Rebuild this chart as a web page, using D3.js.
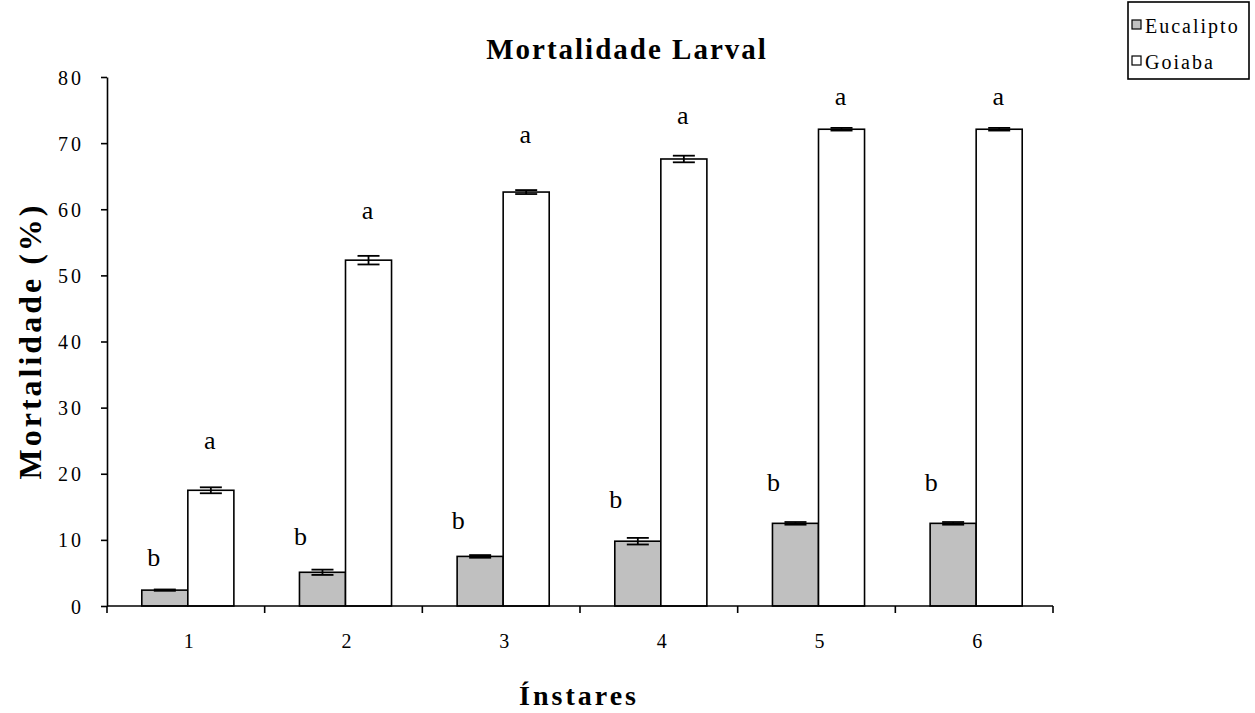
<!DOCTYPE html>
<html>
<head>
<meta charset="utf-8">
<script src="https://cdn.jsdelivr.net/npm/d3@7"></script>
<style>
  html, body { margin: 0; padding: 0; background: #fff; }
  svg { display: block; font-family: "Liberation Serif", "Times New Roman", serif; }
</style>
</head>
<body>
<svg id="chart" width="1255" height="713"></svg>
<script>
// Larval mortality (%) per instar, for larvae reared on eucalyptus and guava
const instars = ["1", "2", "3", "4", "5", "6"];
const seriesNames = ["Eucalipto", "Goiaba"];
const eucalipto = [2.4, 5.1, 7.5, 9.8, 12.5, 12.5];
const eucaliptoErr = [0.1, 0.4, 0.2, 0.5, 0.2, 0.2];
const goiaba = [17.5, 52.3, 62.6, 67.6, 72.1, 72.1];
const goiabaErr = [0.45, 0.65, 0.3, 0.5, 0.2, 0.2];
const yTicks = [0, 10, 20, 30, 40, 50, 60, 70, 80];

// significance letters and the height (in % units) of their baselines
const letterEuc = ["b", "b", "b", "b", "b", "b"];
const letterEucAt = [6.0, 9.2, 11.6, 14.8, 17.4, 17.4];
const letterGoi = ["a", "a", "a", "a", "a", "a"];
const letterGoiAt = [23.7, 58.5, 70.0, 72.9, 75.8, 75.8];

const fills = ["#c0c0c0", "#ffffff"];
const serif = "'Liberation Serif', 'Times New Roman', serif";

const svg = d3.select("#chart");
const plotL = 107, plotR = 1053, plotT = 77, plotB = 606;

const x = d3.scaleBand().domain(instars).range([plotL, plotR]).paddingInner(0).paddingOuter(0);
const y = d3.scaleLinear().domain([0, 80]).range([plotB, plotT]);
const barW = x.bandwidth() * 0.292;
const sub = d3.scaleBand().domain(seriesNames).range([0, 2 * barW]);
const groupOffset = (x.bandwidth() - 2 * barW) / 2 + 2;

const rows = instars.map((k, i) => ({
  k,
  vals: [
    { s: "Eucalipto", v: eucalipto[i], e: eucaliptoErr[i], L: letterEuc[i], at: letterEucAt[i] },
    { s: "Goiaba", v: goiaba[i], e: goiabaErr[i], L: letterGoi[i], at: letterGoiAt[i] }
  ]
}));

// bars
const g = svg.append("g");
const groups = g.selectAll("g.grp").data(rows).join("g")
  .attr("class", "grp")
  .attr("transform", d => `translate(${x(d.k) + groupOffset},0)`);

groups.selectAll("rect").data(d => d.vals).join("rect")
  .attr("x", d => sub(d.s))
  .attr("y", d => y(d.v))
  .attr("width", sub.bandwidth())
  .attr("height", d => y(0) - y(d.v))
  .attr("fill", (d, i) => fills[i])
  .attr("stroke", "#000")
  .attr("stroke-width", 1.6);

// error bars
const capW = 22;
groups.selectAll("g.err").data(d => d.vals).join("g")
  .attr("class", "err")
  .each(function(d) {
    const cx = sub(d.s) + sub.bandwidth() / 2;
    const e = d3.select(this);
    e.append("line").attr("x1", cx).attr("x2", cx)
      .attr("y1", y(d.v + d.e)).attr("y2", y(d.v - d.e));
    e.append("line").attr("x1", cx - capW / 2).attr("x2", cx + capW / 2)
      .attr("y1", y(d.v + d.e)).attr("y2", y(d.v + d.e));
    e.append("line").attr("x1", cx - capW / 2).attr("x2", cx + capW / 2)
      .attr("y1", y(d.v - d.e)).attr("y2", y(d.v - d.e));
  })
  .attr("stroke", "#000").attr("stroke-width", 1.8);

// letters above bars
groups.append("text")
  .attr("x", (d, i) => sub("Eucalipto") + (i === 0 ? 12 : 1))
  .attr("y", d => y(d.vals[0].at))
  .attr("text-anchor", "middle")
  .style("font-size", "26px")
  .text(d => d.vals[0].L);
groups.append("text")
  .attr("x", sub("Goiaba") + sub.bandwidth() / 2 - 1)
  .attr("y", d => y(d.vals[1].at))
  .attr("text-anchor", "middle")
  .style("font-size", "26px")
  .text(d => d.vals[1].L);

// y axis
const yAxis = svg.append("g")
  .attr("transform", `translate(${plotL},0)`)
  .call(d3.axisLeft(y).tickValues(yTicks).tickSize(6).tickPadding(17).tickSizeOuter(0));
yAxis.attr("font-family", null);
yAxis.select(".domain").attr("stroke", "#000").attr("stroke-width", 1.6);
yAxis.selectAll(".tick line").attr("stroke", "#000").attr("stroke-width", 1.6);
yAxis.selectAll(".tick text")
  .style("font-family", serif)
  .style("font-size", "20px")
  .style("letter-spacing", "3px")
  .attr("fill", "#000")
  .attr("dy", "0.35em");

// x axis: ticks on the category boundaries
const xAxisG = svg.append("g").attr("transform", `translate(0,${plotB})`);
xAxisG.append("line").attr("x1", plotL).attr("x2", plotR)
  .attr("stroke", "#000").attr("stroke-width", 1.6);
const bounds = instars.map(k => x(k)).concat([plotR]);
xAxisG.selectAll("line.tk").data(bounds).join("line")
  .attr("class", "tk")
  .attr("x1", d => d).attr("x2", d => d)
  .attr("y1", 0).attr("y2", 7)
  .attr("stroke", "#000").attr("stroke-width", 1.6);
xAxisG.selectAll("text").data(instars).join("text")
  .attr("x", d => x(d) + x.bandwidth() / 2 + 3)
  .attr("y", 42)
  .attr("text-anchor", "middle")
  .style("font-family", serif)
  .style("font-size", "20px")
  .text(d => d);

// titles
svg.append("text")
  .attr("x", 627).attr("y", 59)
  .attr("text-anchor", "middle")
  .style("font-size", "29px").style("font-weight", "bold")
  .style("letter-spacing", "2px")
  .text("Mortalidade Larval");

svg.append("text")
  .attr("transform", "translate(41,341) rotate(-90)")
  .attr("text-anchor", "middle")
  .style("font-size", "32px").style("font-weight", "bold")
  .style("letter-spacing", "3px")
  .text("Mortalidade (%)");

svg.append("text")
  .attr("x", 579).attr("y", 705)
  .attr("text-anchor", "middle")
  .style("font-size", "28px").style("font-weight", "bold")
  .style("letter-spacing", "3px")
  .text("Ínstares");

// legend
const lg = svg.append("g");
lg.append("rect").attr("x", 1128).attr("y", 2).attr("width", 121).attr("height", 77)
  .attr("fill", "#fff").attr("stroke", "#000").attr("stroke-width", 1.6);
const items = lg.selectAll("g.it").data(seriesNames).join("g").attr("class", "it")
  .attr("transform", (d, i) => `translate(1132,${33 + i * 36})`);
items.append("rect").attr("x", 0).attr("y", -13).attr("width", 9).attr("height", 9)
  .attr("fill", (d, i) => fills[i]).attr("stroke", "#000").attr("stroke-width", 1.2);
items.append("text").attr("x", 13).attr("y", 0)
  .style("font-size", "20px").style("letter-spacing", "2px")
  .text(d => d);
</script>
</body>
</html>
